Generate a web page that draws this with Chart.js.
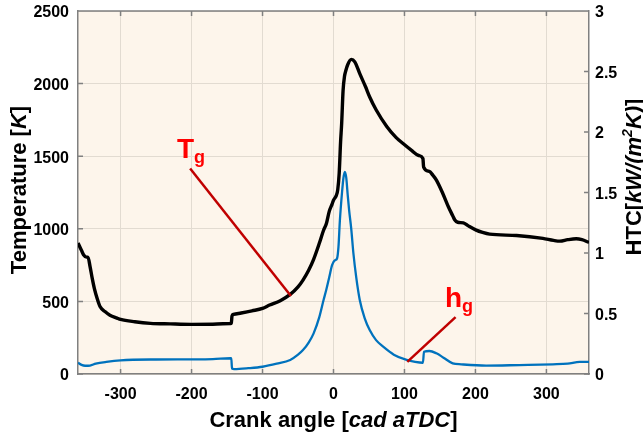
<!DOCTYPE html>
<html>
<head>
<meta charset="utf-8">
<script src="https://cdn.jsdelivr.net/npm/chart.js@4.4.1/dist/chart.umd.min.js"></script>
<style>
  html, body { margin: 0; padding: 0; background: #fff; }
</style>
</head>
<body>
<canvas id="myChart" width="643" height="437"></canvas>
<script>
// gas temperature (K) vs crank angle
const crankT = [-360,-355,-352,-348,-346,-343,-340,-337,-333,-329,-322,-315,-305,-300,-280,-258,-230,-200,-170,-145,
  -144,-143,-141,-130,-115,-100,-90,-75,-61,-50,-43,-35,-28,-20,-14,-10,-6,-2,0,4,
  6,8,10,11.5,13.5,15.5,17.5,20,25,30,37,45,51,60,75,88,98,110,120,126,
  127,135,140,145,154,162,168,171,175,183,190,201,210,220,258,295,310,319,330,342,350,360];
const tempT = [903,850,820,805,805,740,660,590,520,465,430,405,385,376,360,349,345,342,343,348,
  350,400,410,420,435,452,475,505,548,600,647,715,790,900,990,1037,1120,1170,1197,1230,
  1270,1381,1600,1725,1954,2050,2092,2130,2167,2150,2069,1980,1908,1820,1705,1630,1587,1540,1505,1484,
  1425,1395,1369,1335,1243,1150,1090,1060,1045,1041,1020,991,975,963,954,934,920,915,925,931,925,906];

// heat transfer coefficient (kW/m2K) vs crank angle
const crankH = [-360,-355,-350,-343,-335,-320,-300,-250,-200,-170,-145,-144,-143,-140,-120,-100,-80,-61,-50,-43,
  -35,-28,-20,-14,-10,-6,-2,2,5,7,9,12,14,16,18,20,22,25,28,32,
  37,44,51,60,70,85,103,115,126,127.5,135,145,155,168,180,215,262,309,330,347,360];
const htcH = [0.093,0.075,0.068,0.07,0.085,0.10,0.113,0.12,0.121,0.123,0.13,0.13,0.045,0.041,0.048,0.06,0.085,0.116,0.16,0.198,
  0.26,0.336,0.47,0.611,0.70,0.80,0.90,0.94,0.955,1.05,1.27,1.5,1.62,1.67,1.62,1.48,1.354,1.2,1.0,0.8,
  0.611,0.46,0.363,0.28,0.226,0.16,0.116,0.10,0.093,0.184,0.19,0.171,0.135,0.088,0.08,0.069,0.074,0.08,0.085,0.10,0.10];

const xTicks = [-300, -200, -100, 0, 100, 200, 300];
const tempTicks = [0, 500, 1000, 1500, 2000, 2500];
const htcTicks = [0, 0.5, 1, 1.5, 2, 2.5, 3];

// leader lines of the Tg / hg labels
const tgLineX = [-202, -60];
const tgLineY = [1415, 537];
const hgLineX = [104, 172];
const hgLineY = [0.10, 0.47];

const pts = (xs, ys) => xs.map((x, i) => ({ x: x, y: ys[i] }));

const FONT = "'Liberation Sans', Arial, sans-serif";
const gridColor = '#e2dbd1';
const axisColor = '#808080';

function richText(ctx, parts, x, y, angle) {
  ctx.save();
  ctx.translate(x, y);
  ctx.rotate(angle);
  ctx.textBaseline = 'alphabetic';
  ctx.textAlign = 'left';
  let total = 0;
  parts.forEach(p => { ctx.font = p.font; total += ctx.measureText(p.t).width; });
  let cx = -total / 2;
  parts.forEach(p => {
    ctx.font = p.font;
    ctx.fillStyle = '#000';
    ctx.fillText(p.t, cx, p.dy || 0);
    cx += ctx.measureText(p.t).width;
  });
  ctx.restore();
}

function subLabel(ctx, main, sub, px, py) {
  ctx.save();
  ctx.fillStyle = '#ff0000';
  ctx.textBaseline = 'alphabetic';
  ctx.font = 'bold 28px ' + FONT;
  ctx.fillText(main, px, py);
  const w = ctx.measureText(main).width;
  ctx.font = 'bold 18px ' + FONT;
  ctx.fillText(sub, px + w, py + 5);
  ctx.restore();
}

const noPad = s => { s.paddingTop = 0; s.paddingBottom = 0; s.paddingLeft = 0; s.paddingRight = 0; };

const frame = {
  id: 'frame',
  beforeDraw(chart) {
    const a = chart.chartArea, ctx = chart.ctx;
    ctx.save();
    ctx.fillStyle = '#fdf5eb';
    ctx.fillRect(a.left, a.top, a.right - a.left, a.bottom - a.top);
    ctx.restore();
  },
  afterDraw(chart) {
    const a = chart.chartArea, ctx = chart.ctx;
    const sx = chart.scales.x, sT = chart.scales.yT, sH = chart.scales.yH;
    ctx.save();
    ctx.strokeStyle = axisColor;
    ctx.lineWidth = 1.5;
    ctx.beginPath();
    ctx.moveTo(a.left, a.top); ctx.lineTo(a.right, a.top);
    // inward ticks
    xTicks.forEach(v => {
      const p = sx.getPixelForValue(v);
      ctx.moveTo(p, a.bottom); ctx.lineTo(p, a.bottom - 5);
      ctx.moveTo(p, a.top); ctx.lineTo(p, a.top + 5);
    });
    tempTicks.forEach(v => {
      const p = sT.getPixelForValue(v);
      ctx.moveTo(a.left, p); ctx.lineTo(a.left + 5, p);
    });
    htcTicks.forEach(v => {
      const p = sH.getPixelForValue(v);
      ctx.moveTo(a.right, p); ctx.lineTo(a.right - 5, p);
    });
    ctx.stroke();
    ctx.restore();

    const nb = 'bold 22px ' + FONT, ib = 'italic bold 22px ' + FONT;
    richText(ctx, [{ t: 'Crank angle [', font: nb }, { t: 'cad aTDC', font: ib }, { t: ']', font: nb }],
      (a.left + a.right) / 2, 427, 0);
    richText(ctx, [{ t: 'Temperature [', font: nb }, { t: 'K', font: ib }, { t: ']', font: nb }],
      26, 190, -Math.PI / 2);
    richText(ctx, [{ t: 'HTC[', font: nb }, { t: 'kW/(m', font: ib },
      { t: '2', font: 'italic bold 14px ' + FONT, dy: -9 }, { t: 'K)', font: ib }, { t: ']', font: nb }],
      641, 177, -Math.PI / 2);

    subLabel(ctx, 'T', 'g', sx.getPixelForValue(-220.6), sT.getPixelForValue(1486));
    subLabel(ctx, 'h', 'g', sx.getPixelForValue(157), sT.getPixelForValue(461));
  }
};

const tickFont = { family: FONT, size: 16, weight: 'bold' };

new Chart(document.getElementById('myChart').getContext('2d'), {
  type: 'line',
  data: {
    datasets: [
      { data: pts(tgLineX, tgLineY), yAxisID: 'yT', borderColor: '#c00000', borderWidth: 2.5, pointRadius: 0 },
      { data: pts(hgLineX, hgLineY), yAxisID: 'yH', borderColor: '#c00000', borderWidth: 2.5, pointRadius: 0 },
      { data: pts(crankH, htcH), yAxisID: 'yH', borderColor: '#0072bd', borderWidth: 2.3, pointRadius: 0,
        cubicInterpolationMode: 'monotone' },
      { data: pts(crankT, tempT), yAxisID: 'yT', borderColor: '#000000', borderWidth: 3.4, pointRadius: 0,
        cubicInterpolationMode: 'monotone' }
    ]
  },
  options: {
    responsive: false,
    animation: false,
    devicePixelRatio: 1,
    layout: { padding: { top: 11, left: 0, right: 0, bottom: 0 } },
    plugins: { legend: { display: false }, tooltip: { enabled: false } },
    scales: {
      x: {
        type: 'linear', min: -360, max: 360,
        afterBuildTicks: s => { s.ticks = xTicks.map(v => ({ value: v })); },
        afterFit: s => { s.height = 63; noPad(s); },
        grid: { color: gridColor, drawTicks: false },
        border: { color: axisColor, width: 1.5 },
        ticks: { font: tickFont, color: '#000', padding: 11, maxRotation: 0, autoSkip: false,
          callback: v => String(v) }
      },
      yT: {
        type: 'linear', position: 'left', min: 0, max: 2500,
        afterBuildTicks: s => { s.ticks = tempTicks.map(v => ({ value: v })); },
        afterFit: s => { s.width = 78; noPad(s); },
        grid: { color: gridColor, drawTicks: false },
        border: { color: axisColor, width: 1.5 },
        ticks: { font: tickFont, color: '#000', padding: 9, labelOffset: 2, callback: v => String(v) }
      },
      yH: {
        type: 'linear', position: 'right', min: 0, max: 3,
        afterBuildTicks: s => { s.ticks = htcTicks.map(v => ({ value: v })); },
        afterFit: s => { s.width = 54; noPad(s); },
        grid: { drawOnChartArea: false, drawTicks: false },
        border: { color: axisColor, width: 1.5 },
        ticks: { font: tickFont, color: '#000', padding: 6, labelOffset: 2, callback: v => String(v) }
      }
    }
  },
  plugins: [frame]
});
</script>
</body>
</html>
